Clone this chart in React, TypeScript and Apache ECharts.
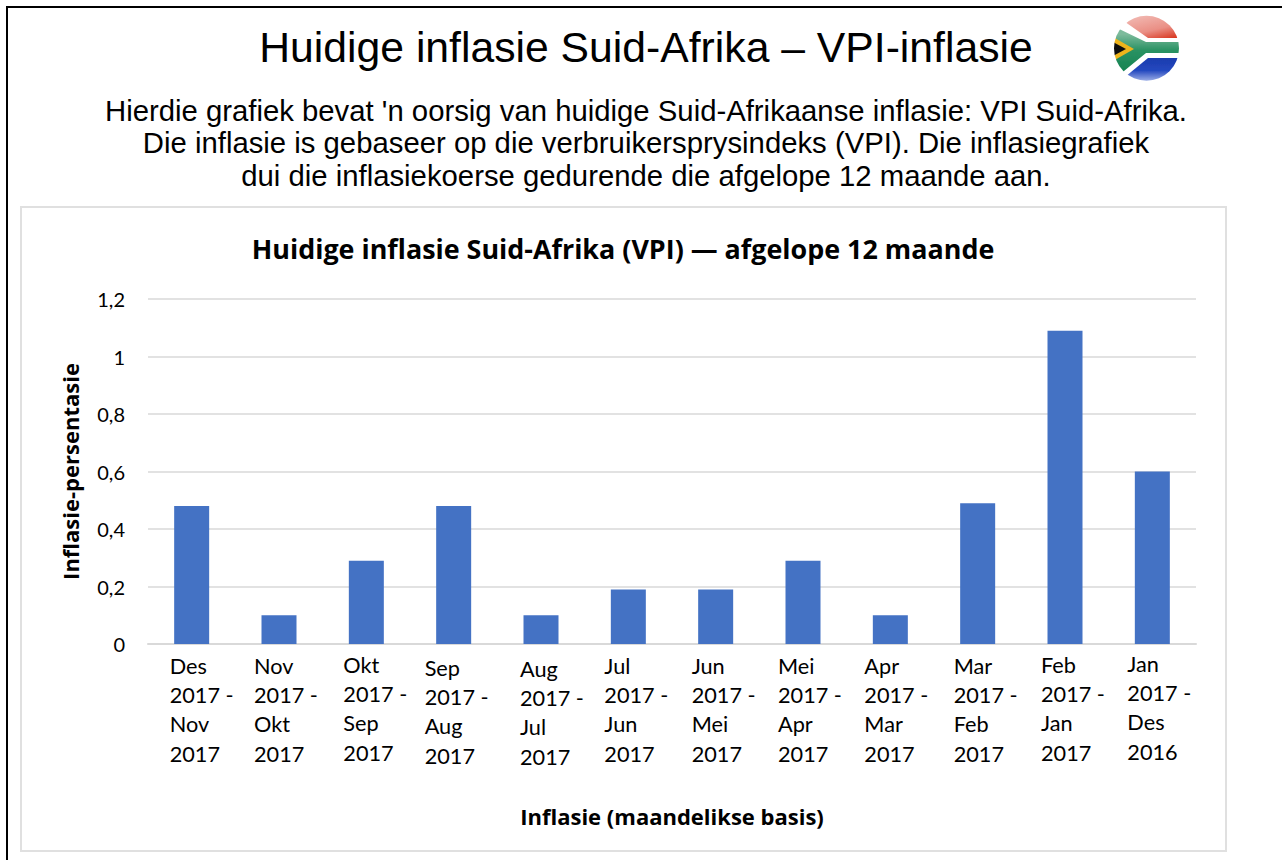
import React, { useEffect, useRef } from "react";
import * as echarts from "echarts";

const categories = [
  "Des\n2017 -\nNov\n2017", "Nov\n2017 -\nOkt\n2017", "Okt\n2017 -\nSep\n2017", "Sep\n2017 -\nAug\n2017",
  "Aug\n2017 -\nJul\n2017", "Jul\n2017 -\nJun\n2017", "Jun\n2017 -\nMei\n2017", "Mei\n2017 -\nApr\n2017",
  "Apr\n2017 -\nMar\n2017", "Mar\n2017 -\nFeb\n2017", "Feb\n2017 -\nJan\n2017", "Jan\n2017 -\nDes\n2016",
];
const values = [0.48, 0.1, 0.29, 0.48, 0.1, 0.19, 0.19, 0.29, 0.1, 0.49, 1.09, 0.6];
const yTickLabels = ["0", "0,2", "0,4", "0,6", "0,8", "1", "1,2"];
const pageTitle = "Huidige inflasie Suid-Afrika – VPI-inflasie";
const intro = "Hierdie grafiek bevat 'n oorsig van huidige Suid-Afrikaanse inflasie: VPI Suid-Afrika.\nDie inflasie is gebaseer op die verbruikersprysindeks (VPI). Die inflasiegrafiek\ndui die inflasiekoerse gedurende die afgelope 12 maande aan.";
const chartTitle = "Huidige inflasie Suid-Afrika (VPI) — afgelope 12 maande";
const xName = "Inflasie (maandelikse basis)";
const yName = "Inflasie-persentasie";

// hand-set nudges of the individual tick labels in the reference
const labelHalfWidth = [22, 25, 23, 29, 21, 24, 24, 25, 26, 24, 24, 25];
const labelNudgeY = [2, 2, 1, 4, 5, 2, 2, 2, 2, 2, 1, 0];

const flagSvg = `<svg xmlns="http://www.w3.org/2000/svg" width="70" height="70" viewBox="0 0 70 70">
<defs>
<clipPath id="c"><circle cx="33.5" cy="35.3" r="32.5"/></clipPath>
<filter id="f" x="-10%" y="-10%" width="120%" height="120%"><feGaussianBlur stdDeviation="0.6"/></filter>
<linearGradient id="r" x1="0.2" y1="0" x2="0.85" y2="1"><stop offset="0" stop-color="#f3c3bd"/><stop offset="0.65" stop-color="#ea8f85"/><stop offset="1" stop-color="#d93a24"/></linearGradient>
<linearGradient id="b" x1="0" y1="0" x2="0" y2="1"><stop offset="0" stop-color="#1b3cae"/><stop offset="0.5" stop-color="#2448bf"/><stop offset="1" stop-color="#b5c3ee"/></linearGradient>
<linearGradient id="g" x1="0" y1="0" x2="0" y2="1"><stop offset="0.15" stop-color="#7dbb9c"/><stop offset="0.45" stop-color="#2a9263"/><stop offset="1" stop-color="#0e7c4a"/></linearGradient>
</defs>
<g clip-path="url(#c)" filter="url(#f)">
<rect width="70" height="70" fill="#fff"/>
<polygon points="0,0 70,0 70,25 35,25 15,11" fill="url(#r)"/>
<polygon points="70,70 70,45 35,45 18,59 5,70" fill="url(#b)"/>
<polygon points="0,13 33,29 70,29 70,40 33,40 0,67" fill="url(#g)"/>
<polygon points="0,24 21,36 0,48" fill="#eeb41e"/>
<polygon points="0,29 13,36 0,43" fill="#111"/>
</g></svg>`;

export default function App() {
  const ref = useRef<HTMLDivElement>(null);
  useEffect(() => {
    const chart = echarts.init(ref.current!, undefined, { renderer: "svg" });
    const cal = "Lato";
    const bold = "'Open Sans'";
    const ari = "'Liberation Sans'";
    const rich: Record<string, object> = {};
    labelHalfWidth.forEach((w, i) => {
      rich["a" + i] = { width: 2 * w, align: "left", lineHeight: 29.3, fontFamily: cal, fontSize: 21.7, color: "#000" };
    });
    chart.setOption({
      animation: false,
      backgroundColor: "#fff",
      title: [
        { text: pageTitle, left: 641, top: 20, textAlign: "center", textStyle: { fontFamily: ari, fontSize: 42.7, fontWeight: "normal", color: "#000" } },
        { text: intro, left: 641, top: 89, textAlign: "center", textStyle: { fontFamily: ari, fontSize: 29.3, fontWeight: "normal", color: "#000", lineHeight: 32.5, align: "center" } },
        { text: chartTitle, left: 618, top: 230, textAlign: "center", textStyle: { fontFamily: bold, fontSize: 26.9, fontWeight: "bold", color: "#000" } },
      ],
      grid: { left: 148, right: 86, top: 299, bottom: 216, containLabel: false },
      xAxis: {
        type: "category",
        data: categories.map((value, i) => ({
          value,
          textStyle: { padding: [labelNudgeY[i], 0, 0, 0] },
        })),
        name: xName,
        nameLocation: "middle",
        nameGap: 161,
        nameTextStyle: { fontFamily: bold, fontSize: 22, fontWeight: "bold", color: "#000" },
        axisTick: { show: false },
        axisLine: { lineStyle: { color: "#d9d9d9", width: 2 } },
        axisLabel: {
          interval: 0,
          margin: 5,
          fontFamily: cal,
          fontSize: 21.7,
          color: "#000",
          rich,
          formatter: (v: string, i: number) => v.split("\n").map((l) => `{a${i}|${l}}`).join("\n"),
        },
      },
      yAxis: {
        type: "value",
        min: 0,
        max: 1.2,
        interval: 0.2,
        name: yName,
        nameLocation: "middle",
        nameGap: 67,
        nameTextStyle: { fontFamily: bold, fontSize: 22, fontWeight: "bold", color: "#000" },
        axisLine: { show: false },
        axisTick: { show: false },
        splitLine: { lineStyle: { color: "#d9d9d9", width: 1.5 } },
        axisLabel: {
          margin: 23,
          fontFamily: cal,
          fontSize: 20,
          color: "#000",
          formatter: (_v: number, i: number) => yTickLabels[i],
        },
      },
      series: [{ type: "bar", data: values, barWidth: 35, itemStyle: { color: "#4472c4" }, silent: true }],
      graphic: [
        { type: "rect", z: -10, shape: { x: 21, y: 207, width: 1205, height: 644 }, style: { fill: "#fff", stroke: "#e0e0e0", lineWidth: 2 } },
        { type: "line", shape: { x1: 6, y1: 7, x2: 1282, y2: 7 }, style: { stroke: "#000", lineWidth: 2 } },
        { type: "line", shape: { x1: 7, y1: 6, x2: 7, y2: 860 }, style: { stroke: "#000", lineWidth: 2 } },
        { type: "image", x: 1113, y: 13, style: { image: "data:image/svg+xml;utf8," + encodeURIComponent(flagSvg), x: 0, y: 0, width: 70, height: 70 } },
      ],
    });
    return () => chart.dispose();
  }, []);
  return <div ref={ref} style={{ position: "absolute", left: 0, top: 0, width: 1282, height: 860 }} />;
}
